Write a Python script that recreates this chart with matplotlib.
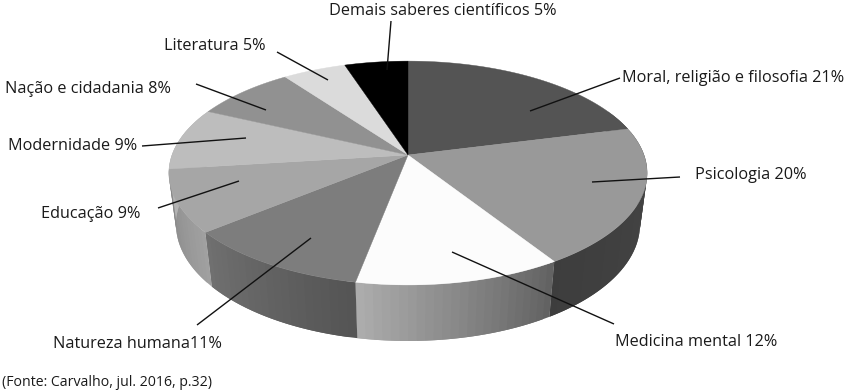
import numpy as np
import matplotlib
matplotlib.use("Agg")
import matplotlib.pyplot as plt

# --- data ---
categories = ["Moral, religião e filosofia", "Psicologia", "Medicina mental",
              "Natureza humana", "Educação", "Modernidade",
              "Nação e cidadania", "Literatura", "Demais saberes científicos"]
values = [21, 20, 12, 11, 9, 9, 8, 5, 5]
label_texts = ["Moral, religião e filosofia 21%", "Psicologia 20%", "Medicina mental 12%",
               "Natureza humana11%", "Educação 9%", "Modernidade 9%",
               "Nação e cidadania 8%", "Literatura 5%", "Demais saberes científicos 5%"]
source_text = "(Fonte: Carvalho, jul. 2016, p.32)"

# --- style / layout ---
top_grays = [0.33, 0.60, 0.99, 0.49, 0.65, 0.74, 0.57, 0.86, 0.0]
side_grays = [(0.30, 0.30), (0.28, 0.24), (0.38, 0.68), (0.33, 0.44),
              (0.63, 0.53), (0.7, 0.7), (0.5, 0.5), (0.7, 0.7), (0.1, 0.1)]
label_pos = [(622, 78), (695, 175), (615, 342), (53, 344), (41, 214),
             (8, 146), (5, 89), (164, 46), (329, 11)]
leaders = [((620, 78), (530, 111)), ((680, 177), (592, 182)), ((614, 324), (452, 252)),
           ((197, 325), (311, 238)), ((158, 208), (239, 181)), ((142, 146), (246, 138)),
           ((196, 84), (266, 110)), ((277, 52), (328, 80)), ((391, 21), (387, 70))]
CX, CY, R, B, K, M, D = 408, 155, 236, 109, 0.161, 0.03, 52.6
FONT = "Open Sans"


def project(turn, base=False):
    """turn: fraction of the circle clockwise from the top."""
    a = 2 * np.pi * np.asarray(turn)
    x, y = np.sin(a), np.cos(a)
    w = 1 + K * y + (M if base else 0)
    return CX + R * x / w, CY + (-B * y + (D if base else 0)) / w


fig = plt.figure(figsize=(8.5, 3.92), dpi=100)
ax = fig.add_axes([0, 0, 1, 1])
ax.set_xlim(0, 850)
ax.set_ylim(392, 0)
ax.axis("off")

edges = np.concatenate([[0], np.cumsum(values)]) / sum(values)

# side wall: shaded strips, each overlapping the next so no seams appear
for i in range(len(values)):
    n = max(4, int((edges[i + 1] - edges[i]) * 200))
    ts = np.linspace(edges[i], edges[i + 1], n + 1)
    g0, g1 = side_grays[i]
    for j in range(n):
        t = np.linspace(ts[j], ts[j + 1] if j == n - 1 else ts[j + 1] + (ts[1] - ts[0]), 6)
        xt, yt = project(t)
        xb, yb = project(t, base=True)
        if max(yb) < CY + 10:
            continue
        g = g0 + (g1 - g0) * (j + 0.5) / n
        ax.fill(np.r_[xt, xb[::-1]], np.r_[yt, yb[::-1]], color=(g, g, g), lw=0,
                zorder=2 + i * 0.01 + j * 0.0001)

# top face
for i in range(len(values)):
    ts = np.linspace(edges[i], edges[i + 1], 80)
    x, y = project(ts)
    g = top_grays[i]
    ax.fill(np.r_[CX, x], np.r_[CY, y], color=(g, g, g), lw=0.3, zorder=3)

# leaders and labels
for (p, q) in leaders:
    ax.plot([p[0], q[0]], [p[1], q[1]], color="#111111", lw=1.0, zorder=4,
            solid_capstyle="butt")
for t, (x, y) in zip(label_texts, label_pos):
    ax.text(x, y, t, fontsize=11.7, family=FONT, color="#1a1a1a", ha="left", va="center", zorder=5)
ax.text(2, 383, source_text, fontsize=10.2, family=FONT, color="#1a1a1a", ha="left", va="center")

fig.savefig("out.png", dpi=100, facecolor="white")
